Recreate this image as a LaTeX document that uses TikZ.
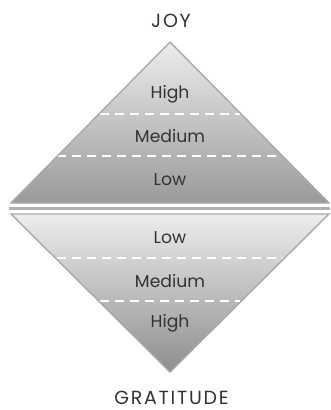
\documentclass[tikz,border=0pt]{standalone}
\usepackage{fontspec}
\setmainfont{Poppins}
\definecolor{edge}{HTML}{A9A9A9}
\definecolor{txt}{HTML}{333333}
\definecolor{topL}{HTML}{ECECEC}
\definecolor{topD}{HTML}{9A9A9A}
\definecolor{botL}{HTML}{EDEDED}
\definecolor{botD}{HTML}{8E8E8E}
\begin{document}
\begin{tikzpicture}[x=1pt,y=-1pt,
  label/.style={text=txt,font=\fontsize{17.2}{19}\selectfont},
  title/.style={text=txt,inner sep=0pt,anchor=base,font=\fontsize{19}{21}\selectfont\addfontfeature{LetterSpace=9}},
  divider/.style={white,line width=1.3pt,dash pattern=on 9pt off 6pt},
  rim/.style={edge,line width=1.4pt,line join=miter}]
\useasboundingbox (0,0) rectangle (330,410);
% upper triangle
\coordinate (A) at (170,42);
\coordinate (B) at (11,203);
\coordinate (C) at (329,203);
\shade[top color=topL,bottom color=topD] (A) -- (B) -- (C) -- cycle;
\draw[divider] (100,114) -- (240,114);
\draw[divider] (57,156) -- (283,156);
\draw[rim] (A) -- (B) -- (C) -- cycle;
% separator bar
\fill[edge!90] (9,207.2) rectangle (330,210.2);
% lower triangle
\coordinate (D) at (11,214);
\coordinate (E) at (329,214);
\coordinate (F) at (170,372);
\shade[top color=botL,bottom color=botD] (D) -- (E) -- (F) -- cycle;
\draw[divider] (57,258) -- (283,258);
\draw[divider] (100,301) -- (240,301);
\draw[rim] (D) -- (E) -- (F) -- cycle;
% texts
\node[title] (joy) at (171,27.5) {JOY};
\node[title] (grat) at (171.5,404.5) {GRATITUDE};
\node[label] (h1) at (170,94) {High};
\node[label] (m1) at (170,136) {Medium};
\node[label] (l1) at (170,180) {Low};
\node[label] (l2) at (170,238) {Low};
\node[label] (m2) at (170,281) {Medium};
\node[label] (h2) at (170,323) {High};
\end{tikzpicture}
\end{document}
